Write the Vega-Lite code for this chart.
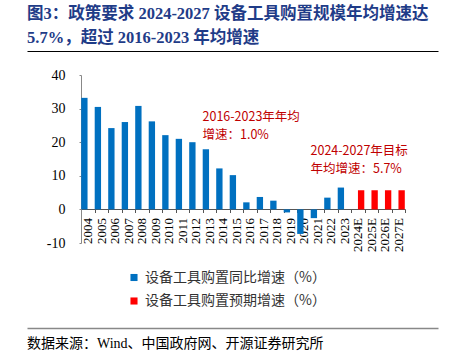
{
  "$schema": "https://vega.github.io/schema/vega-lite/v6.json",
  "padding": {"left": 21, "top": 5, "right": 5, "bottom": 5},
  "background": "white",
  "config": {"view": {"stroke": null}, "font": "Noto Sans CJK SC"},
  "bounds": "flush",
  "spacing": 0,
  "resolve": {"scale": {"x": "independent", "y": "independent", "color": "independent"}},
  "datasets": {
    "growth": [
      {"cat": "2004", "value": 33.2, "series": "设备工具购置同比增速（%）"},
      {"cat": "2005", "value": 30.5, "series": "设备工具购置同比增速（%）"},
      {"cat": "2006", "value": 24.2, "series": "设备工具购置同比增速（%）"},
      {"cat": "2007", "value": 26.0, "series": "设备工具购置同比增速（%）"},
      {"cat": "2008", "value": 30.8, "series": "设备工具购置同比增速（%）"},
      {"cat": "2009", "value": 26.2, "series": "设备工具购置同比增速（%）"},
      {"cat": "2010", "value": 22.1, "series": "设备工具购置同比增速（%）"},
      {"cat": "2011", "value": 21.0, "series": "设备工具购置同比增速（%）"},
      {"cat": "2012", "value": 20.0, "series": "设备工具购置同比增速（%）"},
      {"cat": "2013", "value": 17.9, "series": "设备工具购置同比增速（%）"},
      {"cat": "2014", "value": 12.2, "series": "设备工具购置同比增速（%）"},
      {"cat": "2015", "value": 10.2, "series": "设备工具购置同比增速（%）"},
      {"cat": "2016", "value": 2.1, "series": "设备工具购置同比增速（%）"},
      {"cat": "2017", "value": 3.7, "series": "设备工具购置同比增速（%）"},
      {"cat": "2018", "value": 2.6, "series": "设备工具购置同比增速（%）"},
      {"cat": "2019", "value": -0.9, "series": "设备工具购置同比增速（%）"},
      {"cat": "2020", "value": -7.3, "series": "设备工具购置同比增速（%）"},
      {"cat": "2021", "value": -2.6, "series": "设备工具购置同比增速（%）"},
      {"cat": "2022", "value": 3.5, "series": "设备工具购置同比增速（%）"},
      {"cat": "2023", "value": 6.5, "series": "设备工具购置同比增速（%）"},
      {"cat": "2024E", "value": 5.7, "series": "设备工具购置预期增速（%）"},
      {"cat": "2025E", "value": 5.7, "series": "设备工具购置预期增速（%）"},
      {"cat": "2026E", "value": 5.7, "series": "设备工具购置预期增速（%）"},
      {"cat": "2027E", "value": 5.7, "series": "设备工具购置预期增速（%）"}
    ],
    "notes": [
      {"cat": "2013", "value": 27.5, "label": "2016-2023年年均"},
      {"cat": "2013", "value": 22.2, "label": "增速：1.0%"},
      {"cat": "2021", "value": 17.3, "label": "2024-2027年目标"},
      {"cat": "2021", "value": 12.0, "label": "年均增速：5.7%"}
    ]
  },
  "vconcat": [
    {
      "width": 411,
      "height": 24,
      "title": {
        "text": ["图3：政策要求 2024-2027 设备工具购置规模年均增速达", "5.7%，超过 2016-2023 年均增速"],
        "anchor": "start",
        "font": "Liberation Serif, Noto Sans CJK SC",
        "fontSize": 16.5,
        "fontWeight": "bold",
        "color": "#1F3C88",
        "lineHeight": 24.7,
        "offset": 4
      },
      "data": {"name": "growth"},
      "mark": {"type": "point", "opacity": 0, "size": 0},
      "encoding": {
        "x": {"field": "value", "type": "quantitative",
          "axis": {"orient": "top", "domain": true, "domainColor": "#000", "domainWidth": 1.2, "labels": false, "ticks": false, "grid": false, "title": null}}
      }
    },
    {
      "width": 411,
      "height": 168,
      "resolve": {"axis": {"x": "independent", "y": "independent"}},
      "layer": [
        {
          "data": {"name": "growth"},
          "mark": {"type": "bar"},
          "encoding": {
            "x": {"field": "cat", "type": "ordinal", "sort": null,
              "scale": {"domain": ["2004","2005","2006","2007","2008","2009","2010","2011","2012","2013","2014","2015","2016","2017","2018","2019","2020","2021","2022","2023","2024E","2025E","2026E","2027E"], "range": [54, 378], "paddingInner": 0, "paddingOuter": 0},
              "axis": {"orient": "bottom", "offset": -34, "title": null, "labelAngle": 270, "labelAlign": "right", "labelBaseline": "middle", "labelFont": "Liberation Serif", "labelFontSize": 13, "labelColor": "#000", "labelPadding": 5, "labelOverlap": false, "tickBand": "extent", "tickSize": 3.5, "tickColor": "#555", "domainColor": "#555", "grid": false}},
            "xOffset": {"field": "series", "type": "nominal", "sort": ["设备工具购置同比增速（%）", "设备工具购置预期增速（%）"],
              "scale": {"domain": ["设备工具购置同比增速（%）", "设备工具购置预期增速（%）"], "paddingInner": 0.06, "paddingOuter": 0.03}},
            "y": {"field": "value", "type": "quantitative",
              "scale": {"domain": [-10, 40], "nice": false, "zero": false},
              "axis": {"orient": "left", "offset": -54, "title": null, "values": [-10, 0, 10, 20, 30, 40], "labelExpr": "'' + datum.value", "labelOverlap": false, "labelFont": "Liberation Serif", "labelFontSize": 14, "labelColor": "#000", "labelPadding": 14, "tickSize": 2, "tickColor": "#888", "domain": true, "domainColor": "#888", "domainWidth": 1, "grid": false}},
            "color": {"field": "series", "type": "nominal",
              "scale": {"domain": ["设备工具购置同比增速（%）", "设备工具购置预期增速（%）"], "range": ["#0070C0", "#FF0000"]},
              "legend": {"orient": "none", "legendX": 100, "legendY": 195.5, "direction": "vertical", "title": null, "symbolType": "square", "symbolSize": 50, "symbolStrokeWidth": 0, "labelFont": "Noto Sans CJK SC", "labelFontSize": 14, "labelColor": "#333", "labelLimit": 0, "rowPadding": 9.5, "labelOffset": 4}}
          }
        },
        {
          "data": {"name": "notes"},
          "mark": {"type": "text", "align": "left", "baseline": "middle", "color": "#C00000", "fontSize": 12.5, "font": "Noto Sans CJK SC"},
          "encoding": {
            "x": {"field": "cat", "type": "ordinal", "bandPosition": 0, "axis": null},
            "y": {"field": "value", "type": "quantitative", "axis": null},
            "text": {"field": "label"}
          }
        }
      ]
    },
    {
      "width": 411,
      "height": 85,
      "title": {"text": "数据来源：Wind、中国政府网、开源证券研究所", "orient": "bottom", "anchor": "start", "font": "Liberation Serif, Noto Sans CJK SC", "fontSize": 14, "fontWeight": "normal", "color": "#000", "offset": 9},
      "data": {"name": "growth"},
      "mark": {"type": "point", "opacity": 0, "size": 0},
      "encoding": {
        "x": {"field": "value", "type": "quantitative",
          "axis": {"orient": "bottom", "domain": true, "domainColor": "#888", "domainWidth": 1.5, "labels": false, "ticks": false, "grid": false, "title": null}}
      }
    }
  ]
}
